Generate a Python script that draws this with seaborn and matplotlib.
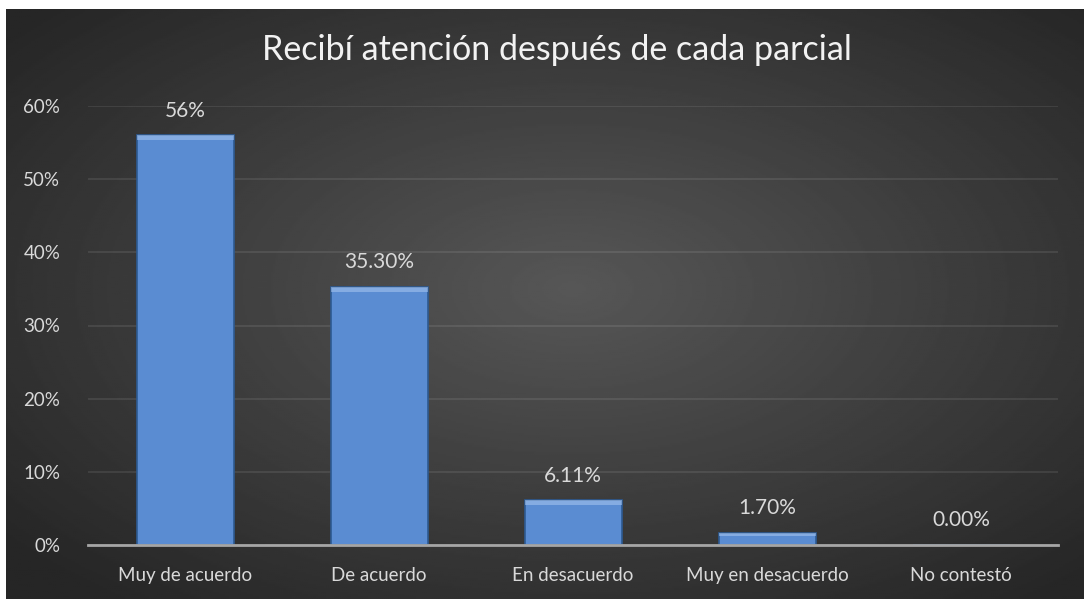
import numpy as np
import pandas as pd
import matplotlib
matplotlib.use("Agg")
import matplotlib.pyplot as plt
import seaborn as sns

categorias = ["Muy de acuerdo", "De acuerdo", "En desacuerdo", "Muy en desacuerdo", "No contestó"]
valores = [0.56, 0.353, 0.0611, 0.017, 0.0]
etiquetas = ["56%", "35.30%", "6.11%", "1.70%", "0.00%"]
titulo = "Recibí atención después de cada parcial"

df = pd.DataFrame({"respuesta": categorias, "pct": valores})

sns.set_theme(style="dark")
plt.rcParams["font.family"] = ["Lato", "DejaVu Sans"]

fig = plt.figure(figsize=(10.84, 5.99), dpi=100, facecolor="white")

# dark radial-gradient background panel
bg = fig.add_axes([6 / 1084, 0, 1 - 6 / 1084, 590 / 599])
yy, xx = np.mgrid[-1:1:300j, -1:1:540j]
r = np.sqrt(((xx - 0.05) * 1.0) ** 2 + ((yy + 0.05) * 1.0) ** 2)
grad = np.clip(0.34 - 0.14 * r, 0.15, 0.34)
bg.imshow(grad, cmap="gray", vmin=0, vmax=1, aspect="auto", extent=[0, 1, 0, 1])
bg.set_axis_off()

ax = fig.add_axes([88 / 1084, 54 / 599, 970 / 1084, 439 / 599])
ax.patch.set_alpha(0)
sns.barplot(data=df, x="respuesta", y="pct", ax=ax, color="#5a8cd2",
            edgecolor="#2d5a92", linewidth=1.2, width=0.5, saturation=1)

# soft bevel highlight on top of each bar
for p in ax.patches:
    h = p.get_height()
    if h <= 0:
        continue
    band = min(0.007, h * 0.3)
    ax.add_patch(plt.Rectangle((p.get_x(), h - band), p.get_width(), band,
                               facecolor="#a9c8f0", edgecolor="none", alpha=0.55,
                               zorder=p.get_zorder() + 0.1))

for i, (v, lab) in enumerate(zip(valores, etiquetas)):
    ax.text(i, v + 0.02, lab, ha="center", va="bottom", color="#d9d9d9", fontsize=15)

ax.set_xlim(-0.5, 4.5)
ax.set_ylim(0, 0.6)
ax.set_yticks(np.arange(0, 0.61, 0.1))
ax.set_yticklabels([f"{int(round(t * 100))}%" for t in np.arange(0, 0.61, 0.1)])
ax.yaxis.grid(True, color="white", alpha=0.1, linewidth=1.2)
ax.xaxis.grid(False)
ax.set_axisbelow(True)
ax.set_xlabel("")
ax.set_ylabel("")
for s in ["top", "right", "left"]:
    ax.spines[s].set_visible(False)
ax.spines["bottom"].set_color("#a6a6a6")
ax.spines["bottom"].set_linewidth(2)
ax.tick_params(axis="both", colors="#d9d9d9", labelsize=13.5, length=0)
ax.tick_params(axis="x", pad=16)
ax.tick_params(axis="y", pad=20)

fig.text(557 / 1084, 1 - 50 / 599, titulo, ha="center", va="center",
         color="#f2f2f2", fontsize=24.5)

fig.savefig("out.png", dpi=100, facecolor="white")
